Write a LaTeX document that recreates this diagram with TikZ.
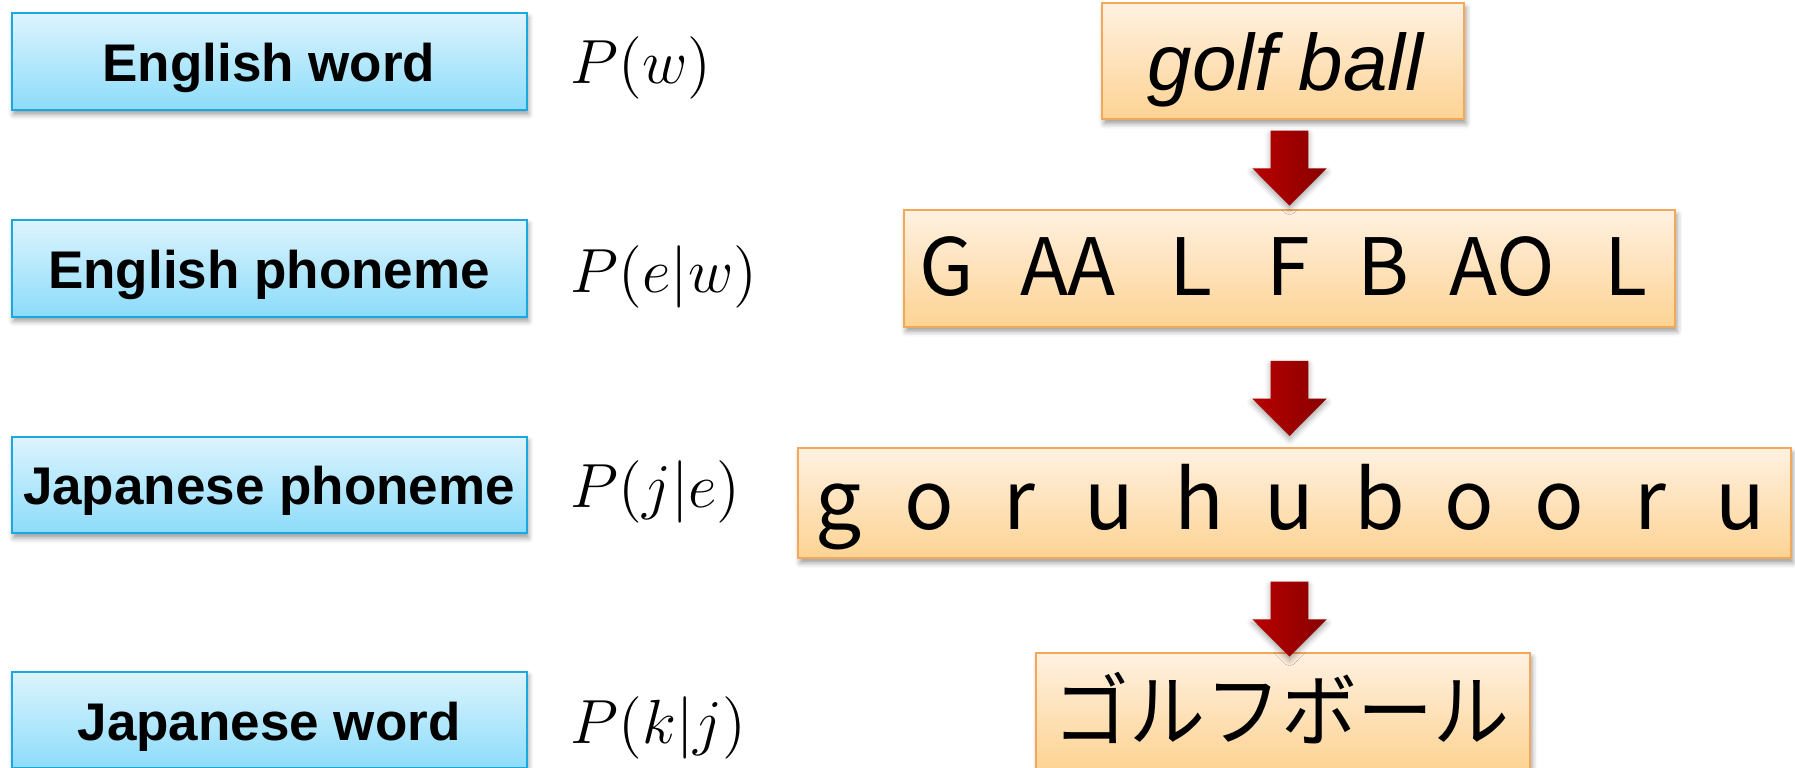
\RequirePackage{fix-cm}
\documentclass[tikz,border=0pt]{standalone}
\usepackage{fontspec}
\setmainfont{Liberation Sans}
\newfontfamily\jpfont{Noto Sans CJK JP}
\newfontfamily\kanafont[FakeStretch=0.95]{Noto Sans CJK JP}
\usetikzlibrary{shadows.blur}

\definecolor{bluetop}{HTML}{DDF4FD}
\definecolor{bluebot}{HTML}{8CDCFA}
\definecolor{bluebord}{HTML}{1BA8E0}
\definecolor{orgtop}{HTML}{FFF1E1}
\definecolor{orgbot}{HTML}{FDD393}
\definecolor{orgbord}{HTML}{F3A759}
\definecolor{arrleft}{HTML}{B80000}
\definecolor{arrright}{HTML}{880000}

\begin{document}
\begin{tikzpicture}[x=0.25pt,y=-0.25pt,
  softshadow/.style={blur shadow={shadow xshift=0.5pt, shadow yshift=-1.1pt,
      shadow blur radius=1.3pt, shadow opacity=40}},
  bluebox/.style={draw=bluebord, line width=0.5pt, top color=bluetop,
      bottom color=bluebot, minimum width=128.75pt, minimum height=24.2pt,
      inner sep=0pt, softshadow},
  orgbox/.style={draw=orgbord, line width=0.5pt, top color=orgtop,
      bottom color=orgbot, inner sep=0pt, softshadow},
  layertext/.style={anchor=base, inner sep=0pt,
      font=\fontsize{13.25}{15}\selectfont\bfseries},
  probtext/.style={anchor=base west, inner sep=0pt,
      font=\fontsize{15.6}{18}\selectfont},
  engph/.style={anchor=base, inner sep=0pt, font=\fontsize{19.75}{22}\selectfont\jpfont},
  japh/.style={anchor=base, inner sep=0pt, font=\fontsize{20.5}{23}\selectfont\jpfont},
  downarrow/.style={left color=arrleft, right color=arrright, draw=none,
      blur shadow={shadow xshift=0pt, shadow yshift=-0.9pt,
      shadow blur radius=1.4pt, shadow opacity=35}}]

\useasboundingbox (0,0) rectangle (1795,768);

% layer labels on the left
\node[bluebox] (lw)  at (269,61.65) {};
\node[bluebox] (lep) at (269,268.25) {};
\node[bluebox] (ljp) at (269,485) {};
\node[bluebox] (ljw) at (269,720) {};
\node[layertext] (tlw)  at (269,81.7)  {English word};
\node[layertext] (tlep) at (269,288.3) {English phoneme};
\node[layertext] (tljp) at (269,505)   {Japanese phoneme};
\node[layertext] (tljw) at (269,740)   {Japanese word};

% model probabilities
\node[probtext] (pw)  at (570,84)  {$P(w)$};
\node[probtext] (pew) at (570,293) {$P(e|w)$};
\node[probtext] (pje) at (570,508) {$P(j|e)$};
\node[probtext] (pkj) at (570,743) {$P(k|j)$};

% example chain on the right
\node[orgbox, minimum width=90.5pt, minimum height=29pt] (ew) at (1283,61.3) {};
\node[orgbox, minimum width=192.75pt, minimum height=29.25pt] (ep) at (1289.5,268.5) {};
\node[orgbox, minimum width=248.25pt, minimum height=27.5pt] (jp) at (1294.5,503.4) {};
\node[orgbox, minimum width=123.5pt, minimum height=29.25pt] (jw) at (1283,711.5) {};

\node[anchor=base, inner sep=0pt, font=\fontsize{20}{24}\selectfont\itshape]
  (tew) at (1285.5,90.7) {golf ball};

\foreach \x/\s [count=\i] in {947/G, 1068/AA, 1190.5/L, 1288.7/F, 1383.8/B, 1502/AO, 1625.5/L}
  \node[engph] (ep\i) at (\x,296) {\s};

\foreach \s [count=\i from 0] in {g,o,r,u,h,u,b,o,o,r,u}
  \node[japh] (jp\i) at (839+90.1*\i,529.3) {\s};

\node[anchor=base, inner sep=0pt, font=\fontsize{20}{24}\selectfont\kanafont]
  (tjw) at (1281,740) {ゴルフボール};

% block arrows between the stages
\foreach \t in {130.7, 361, 581.7}
  \path[downarrow] (1270.7,\t) -- (1308.3,\t) -- (1308.3,\t+37.6) -- (1326.7,\t+37.6)
    -- (1289.5,\t+75) -- (1252.3,\t+37.6) -- (1270.7,\t+37.6) -- cycle;

\end{tikzpicture}
\end{document}
